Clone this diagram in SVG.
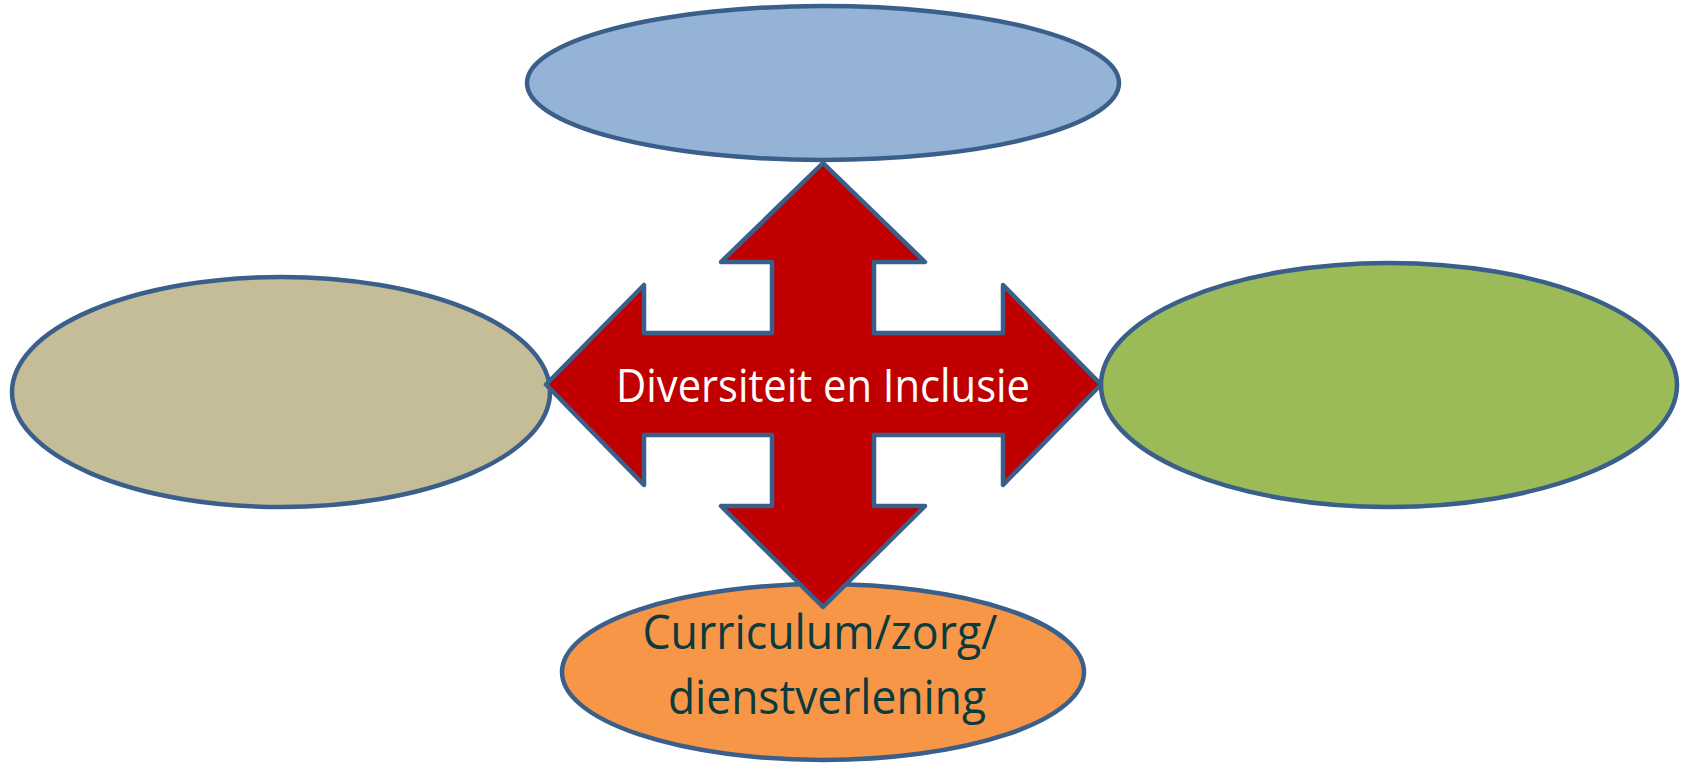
<svg xmlns="http://www.w3.org/2000/svg" width="1684" height="764" viewBox="0 0 1684 764">
<style>
.node{stroke:#3A5F8B;stroke-width:4.5}
.arrow{fill:#C00000;stroke:#3A5F8B;stroke-width:4.5;stroke-linejoin:round}
.lbl{font-family:"Open Sans","Liberation Sans",sans-serif;text-anchor:middle}
</style>
<rect width="1684" height="764" fill="#FFFFFF"/>
<g id="node-top"><ellipse class="node" cx="823" cy="83" rx="296" ry="77" fill="#95B3D7"/></g>
<g id="node-left"><ellipse class="node" cx="281" cy="392" rx="269" ry="115" fill="#C4BD97"/></g>
<g id="node-right"><ellipse class="node" cx="1389" cy="385" rx="288" ry="122" fill="#9BBB59"/></g>
<g id="node-bottom"><ellipse class="node" cx="823" cy="672" rx="261" ry="88" fill="#F79646"/>
<text class="lbl" fill="#0B3A3F" font-size="47" x="820" y="649" textLength="355" lengthAdjust="spacingAndGlyphs">Curriculum/zorg/</text>
<text class="lbl" fill="#0B3A3F" font-size="47" x="827" y="714" textLength="318" lengthAdjust="spacingAndGlyphs">dienstverlening</text>
</g>
<g id="connectors">
<path id="center-arrow" class="arrow" d="M823,163 L925,262 L874,262 L874,333 L1003,333 L1003,285 L1101,384.5 L1003,485 L1003,435 L874,435 L874,506 L925,506 L823,607 L721,506 L772,506 L772,435 L644,435 L644,485 L546,384.5 L644,285 L644,333 L772,333 L772,262 L721,262 Z"/>
<text class="lbl" fill="#FFFFFF" font-size="45" x="823" y="402" textLength="414" lengthAdjust="spacingAndGlyphs">Diversiteit en Inclusie</text>
</g>
</svg>
